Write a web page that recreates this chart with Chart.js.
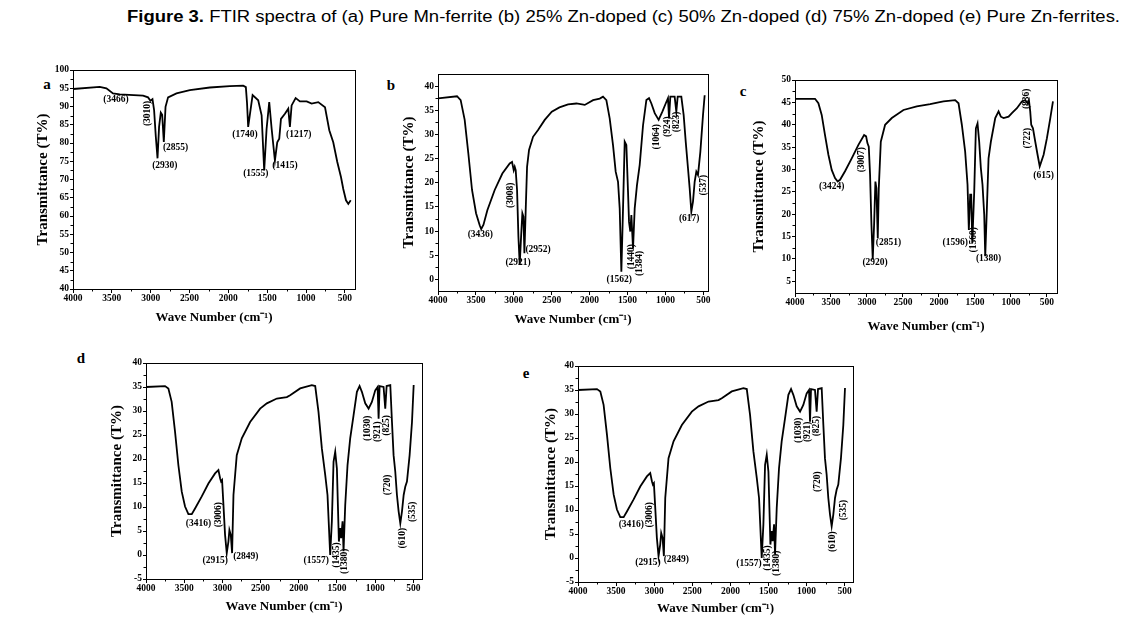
<!DOCTYPE html>
<html><head><meta charset="utf-8">
<script src="https://cdn.jsdelivr.net/npm/chart.js@4.4.1/dist/chart.umd.min.js"></script>
<style>
html,body{margin:0;padding:0;background:#fff;width:1122px;height:637px;overflow:hidden;position:relative}
canvas{position:absolute}
.lt{position:absolute;font:bold 15px "Liberation Serif",serif;line-height:1;transform:translate(-50%,-50%);color:#000}
#title{position:absolute;left:127px;top:9px;white-space:nowrap;font-family:"Liberation Sans Narrow","Liberation Sans",Arial,sans-serif;font-size:16px;line-height:16px;transform-origin:0 0;color:#000}
</style></head><body>
<div id="title"><b>Figure 3.</b> FTIR spectra of (a) Pure Mn-ferrite (b) 25% Zn-doped (c) 50% Zn-doped (d) 75% Zn-doped (e) Pure Zn-ferrites.</div>
<div class="lt" style="left:47px;top:84px">a</div>
<div class="lt" style="left:391px;top:85px">b</div>
<div class="lt" style="left:743px;top:91px">c</div>
<div class="lt" style="left:81px;top:358px">d</div>
<div class="lt" style="left:526px;top:373px">e</div>
<script>
// ---- tick labels ----
const xTickValues = [4000,3500,3000,2500,2000,1500,1000,500];
const yTicksA = [40,45,50,55,60,65,70,75,80,85,90,95,100];
const yTicksB = [0,5,10,15,20,25,30,35,40];
const yTicksC = [5,10,15,20,25,30,35,40,45,50];
const yTicksDE = [-5,0,5,10,15,20,25,30,35,40];

// ---- (a) Pure Mn-ferrite ----
const wnA = [4000,3656,3570,3485,3398,3098,3034,3003,2977,2956,2934,2912,2892,2870,2852,2831,2809,2776,2668,2496,2238,1981,1809,1775,1760,1745,1688,1616,1572,1539,1508,1474,1443,1401,1371,1345,1323,1272,1229,1208,1186,1134,1079,992,928,843,756,701,650,598,550,521,486,456,425];
const trA = [94.8,95.4,95.0,93.6,93.3,93.0,92.5,91.6,92.0,89.0,81.7,75.8,84.4,88.3,87.7,80.3,89.9,92.5,93.6,94.5,95.2,95.6,95.7,95.3,91.0,84.4,93.1,91.7,87.6,72.5,83.9,91.2,83.9,75.2,80.2,81.2,86.6,88.0,89.4,84.4,90.3,92.3,91.4,91.4,90.8,91.2,89.8,83.5,80.2,74.8,70.6,67.4,64.3,63.3,64.3];

// ---- (b) 25% Zn-doped ----
const wnB = [4000,3749,3701,3648,3600,3551,3498,3450,3430,3400,3349,3252,3151,3054,3023,3001,2988,2975,2957,2939,2922,2904,2887,2873,2860,2843,2825,2799,2746,2680,2592,2499,2398,2284,2174,2064,1954,1866,1823,1779,1735,1691,1656,1625,1603,1581,1559,1537,1515,1493,1480,1463,1449,1427,1405,1375,1339,1295,1251,1216,1185,1141,1089,1040,996,966,952,935,878,856,838,790,759,732,702,680,658,636,614,592,570,539,504,482];
const trB = [37.45,37.9,37.1,33.0,26.1,18.5,13.7,11.2,10.4,11.3,14.3,18.5,21.9,24.0,24.3,22.6,23.3,22.6,18.5,8.8,3.1,8.8,13.7,13.0,5.4,14.3,23.3,26.8,29.5,30.9,33.0,34.7,35.6,36.2,36.4,36.1,37.1,37.4,37.8,37.1,33.3,27.8,22.3,20.2,14.7,1.6,14.7,28.5,27.8,18.1,11.9,9.9,13.3,6.4,14.7,19.5,23.7,31.9,37.1,37.5,36.4,34.4,33.0,34.7,36.4,37.5,33.3,37.8,37.8,34.7,37.8,37.8,34.0,28.5,23.0,18.9,14.0,16.1,20.2,22.3,21.6,26.4,34.0,38.1];

// ---- (c) 50% Zn-doped ----
const wnC = [4000,3722,3675,3629,3583,3536,3490,3444,3407,3374,3305,3212,3119,3040,3012,2994,2975,2957,2938,2920,2901,2883,2869,2850,2836,2808,2748,2655,2493,2308,2122,2006,1937,1775,1728,1682,1636,1603,1585,1566,1552,1537,1510,1487,1464,1441,1418,1395,1371,1357,1334,1311,1279,1218,1172,1140,1102,1033,987,917,848,801,769,750,732,718,694,662,630,600,546,500,453,416];
const trC = [45.8,45.8,44.8,42.2,37.7,33.3,29.9,28.1,27.3,27.7,29.6,32.5,35.5,37.7,37.4,35.9,35.1,28.8,17.7,9.9,17.7,27.3,25.8,14.7,25.8,36.2,40.0,41.5,43.3,44.1,44.6,45.0,45.2,45.5,44.8,40.0,34.0,26.6,16.5,24.4,24.4,13.5,25.1,39.2,40.3,36.2,30.3,26.6,19.9,10.6,21.4,32.5,36.2,41.5,43.0,41.8,41.5,41.8,42.6,43.7,45.2,45.5,44.8,45.5,43.0,40.0,39.2,36.2,33.3,30.7,33.3,37.0,41.5,45.2];

// ---- (d) 75% Zn-doped and (e) Pure Zn-ferrite ----
const wnD = [4000,3751,3707,3664,3620,3576,3532,3489,3445,3401,3358,3270,3183,3096,3052,3030,3017,3004,2986,2965,2943,2921,2908,2890,2873,2855,2812,2746,2637,2506,2418,2287,2156,2113,1982,1829,1785,1742,1698,1654,1624,1589,1567,1545,1523,1501,1488,1475,1458,1445,1427,1414,1392,1362,1327,1283,1239,1204,1174,1130,1086,1043,999,968,955,942,890,868,850,802,780,759,737,715,693,671,649,627,606,584,549,518,496];
const trD = [35.0,35.2,34.7,31.9,25.7,18.7,13.2,10.1,8.5,8.5,9.7,12.2,14.9,17.0,17.7,16.0,15.3,15.6,10.4,4.2,0.4,2.8,5.2,4.2,0.4,12.5,20.8,24.3,27.7,30.5,31.6,32.6,32.9,33.3,34.7,35.4,35.2,29.8,22.2,16.7,12.5,0.0,7.0,19.4,21.5,18.0,10.4,2.8,5.6,3.5,7.0,0.8,10.4,18.7,24.3,29.1,34.0,35.2,34.0,31.6,30.5,31.9,34.3,35.0,28.4,35.2,35.0,30.5,35.2,35.4,27.7,20.8,17.4,12.5,9.1,6.6,9.1,12.5,14.2,15.3,20.8,27.7,35.4];
const wnE = wnD.slice();
const trE = trD.slice();

// ---- peak annotations: [text, wavenumber, transmittance, rotation] ----
const peaksA = [["(3466)",3446,92,0],["(3010)",3046,88.1,-90],["(2855)",2680,78.8,0],["(2930)",2818,73.9,0],["(1740)",1787,82.2,0],["(1555)",1646,71.7,0],["(1415)",1272,73.9,0],["(1217)",1095,82.2,0]];
const peaksB = [["(3436)",3441,9.2,0],["(3008)",3045,17.4,-90],["(2921)",2944,3.45,0],["(2952)",2680,6.1,0],["(1562)",1610,-0.1,0],["(1440)",1447,4.7,-90],["(1384)",1346,3.3,-90],["(1064)",1117,29.5,-90],["(924)",976,31.6,-90],["(823)",853,32.6,-90],["(617)",686,12.5,0],["(537)",497,19.5,-90]];
const peaksC = [["(3424)",3490,26.1,0],["(3007)",3073,32.2,-90],["(2851)",2702,13.6,0],["(2920)",2887,9.3,0],["(1596)",1775,13.6,0],["(1560)",1520,14.3,-90],["(1380)",1311,10,0],["(836)",787,45.8,-90],["(722)",764,37,-90],["(615)",546,28.6,0]];
const peaksD = [["(3416)",3314,6.6,0],["(3006)",3051,8.4,-90],["(2915)",3095,-1.1,0],["(2849)",2693,-0.3,0],["(1557)",1771,-1.1,0],["(1435)",1509,0,-90],["(1380)",1399,-1.3,-90],["(1030)",1106,26.4,-90],["(921)",967,25.7,-90],["(825)",853,27,-90],["(720)",844,14.6,-90],["(610)",647,3.5,-90],["(535)",508,9,-90]];
const peaksE = [["(3416)",3300,6.9,0],["(3006)",3059,9,-90],["(2915)",3081,-0.9,0],["(2849)",2709,-0.4,0],["(1557)",1756,-1.1,0],["(1435)",1506,0,-90],["(1380)",1397,-1.1,-90],["(1030)",1112,26.6,-90],["(921)",981,26.3,-90],["(825)",872,27.5,-90],["(720)",850,15.9,-90],["(610)",653,3.4,-90],["(535)",509,10,-90]];

Chart.defaults.color = '#000';
const SERIF = '"Liberation Serif", "Times New Roman", serif';

const peakPlugin = {
  id: 'peaks',
  afterDraw(chart, args, opts) {
    const {ctx, chartArea: ca, scales: {x, y}} = chart;
    ctx.save();
    ctx.strokeStyle = '#000'; ctx.lineWidth = 1;
    ctx.strokeRect(Math.round(ca.left) + 0.5, Math.round(ca.top) + 0.5, Math.round(ca.right - ca.left), Math.round(ca.bottom - ca.top));
    // minor ticks
    ctx.beginPath();
    for (let i = 0; i < xTickValues.length - 1; i++) {
      const v = (xTickValues[i] + xTickValues[i + 1]) / 2;
      const px = Math.round(x.getPixelForValue(v)) + 0.5;
      ctx.moveTo(px, ca.bottom); ctx.lineTo(px, ca.bottom + 2.5);
    }
    const yt = opts.yTicks;
    for (let i = 0; i < yt.length - 1; i++) {
      const v = (yt[i] + yt[i + 1]) / 2;
      const py = Math.round(y.getPixelForValue(v)) + 0.5;
      ctx.moveTo(ca.left, py); ctx.lineTo(ca.left - 2.5, py);
    }
    ctx.stroke();
    ctx.fillStyle = '#000';
    ctx.font = 'bold 9.5px ' + SERIF;
    ctx.textAlign = 'center'; ctx.textBaseline = 'middle';
    for (const [t, wx, wy, rot] of opts.items) {
      const px = x.getPixelForValue(wx), py = y.getPixelForValue(wy);
      ctx.save(); ctx.translate(px, py); ctx.rotate(rot * Math.PI / 180); ctx.fillText(t, 0, 0); ctx.restore();
    }
    ctx.restore();
  }
};

function makePanel(cfg) {
  const Lw = Math.round(cfg.yTitleDist + 9);
  const Bh = Math.round(cfg.xTitleDist + 7.8);
  const T = 12, R = 14;
  const l = Math.round(cfg.box.l), t = Math.round(cfg.box.t);
  const pw = Math.round(cfg.box.r) - l, ph = Math.round(cfg.box.b) - t;
  const W = Lw + pw + R, H = T + ph + Bh;
  const cv = document.createElement('canvas');
  cv.width = W; cv.height = H;
  cv.style.left = (l - Lw) + 'px'; cv.style.top = (t - T) + 'px';
  cv.style.width = W + 'px'; cv.style.height = H + 'px';
  document.body.appendChild(cv);
  const tickFont = {family: SERIF, size: 9.5, weight: 'bold'};
  new Chart(cv, {
    type: 'line',
    data: {datasets: [{
      data: cfg.wn.map((v, i) => ({x: v, y: cfg.tr[i]})),
      borderColor: '#000', borderWidth: 1.8, pointRadius: 0, tension: 0, fill: false
    }]},
    options: {
      responsive: false, animation: false, devicePixelRatio: 1,
      layout: {padding: {top: T, right: R, left: 0, bottom: 0}},
      plugins: {legend: {display: false}, tooltip: {enabled: false},
        peaks: {items: cfg.peaks, yTicks: cfg.yTicks}},
      scales: {
        x: {type: 'linear', reverse: true, min: cfg.xmin, max: 4000,
          afterBuildTicks: s => { s.ticks = xTickValues.map(v => ({value: v})); },
          afterFit: s => { s.height = Bh; },
          ticks: {font: tickFont, color: '#000', padding: 0, maxRotation: 0, autoSkip: false, callback: v => String(v)},
          grid: {drawOnChartArea: false, drawTicks: true, tickLength: 4, color: '#000', lineWidth: 1},
          border: {display: true, color: '#000', width: 1},
          title: {display: true, text: 'Wave Number (cm\u207B\u00B9)', font: {family: SERIF, size: 13, weight: 'bold'}, color: '#000', padding: 0}
        },
        y: {type: 'linear', min: cfg.ymin, max: cfg.ymax,
          afterBuildTicks: s => { s.ticks = cfg.yTicks.map(v => ({value: v})); },
          afterFit: s => { s.width = Lw; },
          ticks: {font: tickFont, color: '#000', padding: 1, autoSkip: false, callback: v => String(v)},
          grid: {drawOnChartArea: false, drawTicks: true, tickLength: 3, color: '#000', lineWidth: 1},
          border: {display: true, color: '#000', width: 1},
          title: {display: true, text: 'Transmittance (T%)', font: {family: SERIF, size: 15, weight: 'bold'}, color: '#000', padding: 0}
        }
      }
    },
    plugins: [peakPlugin]
  });
}

makePanel({box: {l: 73.3, t: 70, r: 355, b: 288.7}, yTitleDist: 30, xTitleDist: 28, xmin: 370, ymin: 40, ymax: 100, yTicks: yTicksA, wn: wnA, tr: trA, peaks: peaksA});
makePanel({box: {l: 438.3, t: 74, r: 708.3, b: 290.7}, yTitleDist: 29, xTitleDist: 28.6, xmin: 438, ymin: -2.4, ymax: 42.5, yTicks: yTicksB, wn: wnB, tr: trB, peaks: peaksB});
makePanel({box: {l: 795, t: 80, r: 1056.7, b: 293.3}, yTitleDist: 36, xTitleDist: 33, xmin: 360, ymin: 2.4, ymax: 50, yTicks: yTicksC, wn: wnC, tr: trC, peaks: peaksC});
makePanel({box: {l: 146, t: 362.7, r: 421.7, b: 579.3}, yTitleDist: 28.5, xTitleDist: 27.4, xmin: 387, ymin: -5, ymax: 40, yTicks: yTicksDE, wn: wnD, tr: trD, peaks: peaksD});
makePanel({box: {l: 578.3, t: 365.7, r: 853.3, b: 582.3}, yTitleDist: 27, xTitleDist: 26, xmin: 391, ymin: -5, ymax: 40, yTicks: yTicksDE, wn: wnE, tr: trE, peaks: peaksE});

const ttl = document.getElementById('title');
const tw = ttl.getBoundingClientRect().width;
ttl.style.transform = 'scaleX(' + (993 / tw) + ')';
</script>
</body></html>
